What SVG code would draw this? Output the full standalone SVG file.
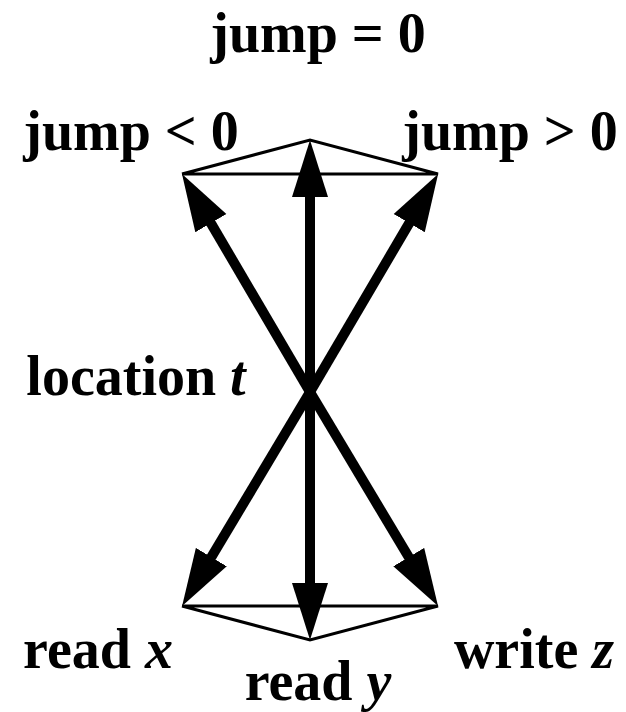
<svg xmlns="http://www.w3.org/2000/svg" width="626" height="712" viewBox="0 0 626 712">
<defs>
<marker id="ah" markerUnits="userSpaceOnUse" viewBox="0 -19 58 38" refX="27" refY="0" markerWidth="58" markerHeight="38" orient="auto">
<polygon points="0,-18 57,0 0,18" fill="#000"/>
</marker>
</defs>
<style>
.t{font-family:"Liberation Serif","Times New Roman",serif;font-weight:bold;font-size:56px;fill:#000;text-anchor:middle}
.i{font-style:italic}
.thin{stroke:#000;stroke-width:3;fill:none}
.arr{stroke:#000;stroke-width:10;fill:none;marker-end:url(#ah)}
</style>
<rect width="626" height="712" fill="#fff"/>
<g id="frames">
<polyline class="thin" points="182,174 310,140 438,174 182,174"/>
<polyline class="thin" points="182,606 310,640 438,606 182,606"/>
</g>
<g id="connectors">
<line class="arr" x1="310" y1="392" x2="197.2" y2="199.9"/>
<line class="arr" x1="310" y1="392" x2="310" y2="170"/>
<line class="arr" x1="310" y1="392" x2="422.9" y2="199.9"/>
<line class="arr" x1="310" y1="392" x2="197.5" y2="580.3"/>
<line class="arr" x1="310" y1="392" x2="310" y2="610"/>
<line class="arr" x1="310" y1="392" x2="422.6" y2="580.3"/>
</g>
<g id="node-jump-eq"><text class="t" x="318" y="52">jump = 0</text></g>
<g id="node-jump-lt"><text class="t" x="131" y="150">jump &lt; 0</text></g>
<g id="node-jump-gt"><text class="t" x="510" y="150">jump &gt; 0</text></g>
<g id="node-location"><text class="t" x="136" y="395">location <tspan class="i">t</tspan></text></g>
<g id="node-read-x"><text class="t" x="98" y="668">read <tspan class="i">x</tspan></text></g>
<g id="node-read-y"><text class="t" x="318" y="700">read <tspan class="i">y</tspan></text></g>
<g id="node-write-z"><text class="t" x="534" y="668">write <tspan class="i">z</tspan></text></g>
</svg>
